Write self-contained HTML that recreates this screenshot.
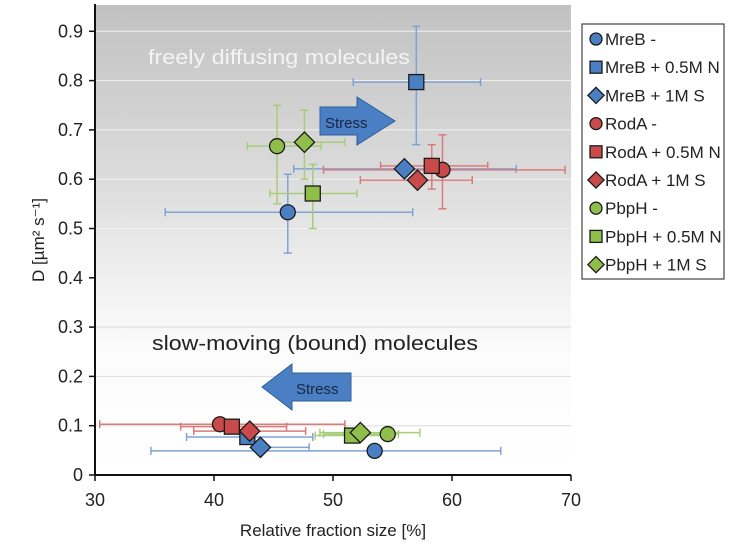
<!DOCTYPE html>
<html><head><meta charset="utf-8"><style>
html,body{margin:0;padding:0;background:#fff;}
svg{display:block;font-family:"Liberation Sans",sans-serif;}
</style></head><body>
<svg id="chart" width="756" height="548" viewBox="0 0 756 548">
<defs>
<linearGradient id="bg" x1="0" y1="0" x2="0" y2="1">
<stop offset="0" stop-color="#c2c2c2"/><stop offset="0.35" stop-color="#dadada"/><stop offset="0.62" stop-color="#f3f3f3"/><stop offset="0.75" stop-color="#fcfcfc"/><stop offset="1" stop-color="#ffffff"/>
</linearGradient>
</defs>
<rect x="95" y="5" width="476" height="470" fill="url(#bg)"/>
<g id="grid"></g>
<text x="148" y="64" font-size="20" fill="#f4f4f4" textLength="262" lengthAdjust="spacingAndGlyphs">freely diffusing molecules</text>
<text x="152" y="350" font-size="20" fill="#222" textLength="326" lengthAdjust="spacingAndGlyphs">slow-moving (bound) molecules</text>
<g>
<polygon points="320,107 357,107 357,97 395,121 357,145 357,135 320,135" fill="#4a7fc4" stroke="#2f5f9a" stroke-width="1"/>
<text x="325" y="128" font-size="15" fill="#1a2540">Stress</text>
</g>
<g>
<polygon points="262,387 292,364 292,373 351,373 351,401 292,401 292,410" fill="#4a7fc4" stroke="#2f5f9a" stroke-width="1"/>
<text x="296" y="394" font-size="15" fill="#1a2540">Stress</text>
</g>
<g id="errs"></g>
<g id="marks"></g>
<g id="axes"></g>
<text x="333" y="536" font-size="17" text-anchor="middle" fill="#222">Relative fraction size [%]</text>
<text transform="translate(44,240) rotate(-90)" font-size="17" text-anchor="middle" fill="#222">D [µm² s⁻¹]</text>
<g id="legend">
<rect x="582" y="24" width="142" height="255" fill="#fff" stroke="#444" stroke-width="1.2"/>
</g>
</svg>
<script>
const seriesNames=["MreB -","MreB + 0.5M N","MreB + 1M S","RodA -","RodA + 0.5M N","RodA + 1M S","PbpH -","PbpH + 0.5M N","PbpH + 1M S"];
const colors=["#4a7fc4","#4a7fc4","#4a7fc4","#c94a4a","#c94a4a","#c94a4a","#8fbf4a","#8fbf4a","#8fbf4a"];
const errColors=["#7fa3d6","#7fa3d6","#7fa3d6","#dc7a7a","#dc7a7a","#dc7a7a","#a9cc7a","#a9cc7a","#a9cc7a"];
const shapes=["circle","square","diamond","circle","square","diamond","circle","square","diamond"];
// upper (free) population
const freeX=[46.2,57.0,56.0,59.2,58.3,57.1,45.3,48.3,47.6];
const freeY=[0.533,0.797,0.621,0.619,0.627,0.598,0.667,0.571,0.675];
const freeXLo=[35.9,51.7,46.7,49.2,54.0,52.3,42.8,44.7,45.0];
const freeXHi=[56.7,62.4,65.4,69.5,63.0,61.7,49.0,52.0,51.0];
const freeYLo=[0.45,0.67,0.61,0.54,0.58,0.59,0.55,0.50,0.60];
const freeYHi=[0.61,0.91,0.63,0.69,0.67,0.61,0.75,0.63,0.74];
// lower (bound) population
const boundX=[53.5,42.8,43.9,40.5,41.5,43.0,54.6,51.6,52.3];
const boundY=[0.049,0.077,0.056,0.103,0.098,0.089,0.083,0.080,0.086];
const boundXLo=[34.7,37.7,43.3,30.4,37.2,38.3,49.2,48.5,48.9];
const boundXHi=[64.1,48.3,48.0,51.0,46.1,47.7,55.5,55.0,57.3];
const xTicks=[30,40,50,60,70];
const yTicks=[0,0.1,0.2,0.3,0.4,0.5,0.6,0.7,0.8,0.9];
const NS="http://www.w3.org/2000/svg";
function sx(v){return 95+(v-30)*(476/40);}
function sy(v){return 475-v*493;}
function mk(tag,attrs,parent){const e=document.createElementNS(NS,tag);for(const k in attrs)e.setAttribute(k,attrs[k]);parent.appendChild(e);return e;}
const grid=document.getElementById('grid'),axes=document.getElementById('axes'),errs=document.getElementById('errs'),marks=document.getElementById('marks'),legend=document.getElementById('legend');
yTicks.forEach((t,i)=>{
 if(t>0){const g=mk('line',{x1:95,x2:571,y1:sy(t),y2:sy(t),stroke:t>=0.4?'#f2f2f2':'#dcdcdc','stroke-width':1},grid);
 }
 const tk=mk('line',{x1:89,x2:95,y1:sy(t),y2:sy(t),stroke:'#111','stroke-width':1.5},axes);
 
 const lb=mk('text',{x:83,y:sy(t)+6,'font-size':18,'text-anchor':'end',fill:'#222'},axes);lb.textContent=t===0?'0':t.toFixed(1);
 
});
xTicks.forEach(t=>{
 const tk=mk('line',{x1:sx(t),x2:sx(t),y1:475,y2:481,stroke:'#111','stroke-width':1.5},axes);
 
 const lb=mk('text',{x:sx(t),y:506,'font-size':18,'text-anchor':'middle',fill:'#222'},axes);lb.textContent=t;
 
});
const xa=mk('line',{x1:95,x2:571,y1:475,y2:475,stroke:'#111','stroke-width':2},axes);

const ya=mk('line',{x1:95,x2:95,y1:4,y2:475,stroke:'#111','stroke-width':2},axes);

function errBar(x1,y1,x2,y2,c,vert){
 const g=mk('g',{stroke:c,'stroke-width':1.5},errs);
 
 mk('line',{x1:x1,y1:y1,x2:x2,y2:y2},g);
 if(vert){mk('line',{x1:x1-4,x2:x1+4,y1:y1,y2:y1},g);mk('line',{x1:x2-4,x2:x2+4,y1:y2,y2:y2},g);}
 else{mk('line',{x1:x1,x2:x1,y1:y1-4,y2:y1+4},g);mk('line',{x1:x2,x2:x2,y1:y2-4,y2:y2+4},g);}
}
function marker(shape,cx,cy,c,r,parent){
 if(shape==='circle')return mk('circle',{cx:cx,cy:cy,r:r,fill:c,stroke:'#1a1a1a','stroke-width':1.3},parent);
 if(shape==='square')return mk('rect',{x:cx-r,y:cy-r,width:2*r,height:2*r,fill:c,stroke:'#1a1a1a','stroke-width':1.3},parent);
 const d=r*1.35;return mk('polygon',{points:`${cx},${cy-d} ${cx+d},${cy} ${cx},${cy+d} ${cx-d},${cy}`,fill:c,stroke:'#1a1a1a','stroke-width':1.3},parent);
}
seriesNames.forEach((n,i)=>{
 errBar(sx(freeXLo[i]),sy(freeY[i]),Math.min(sx(freeXHi[i]),571),sy(freeY[i]),errColors[i],false);
 errBar(sx(freeX[i]),sy(freeYLo[i]),sx(freeX[i]),sy(freeYHi[i]),errColors[i],true);
 errBar(sx(boundXLo[i]),sy(boundY[i]),Math.min(sx(boundXHi[i]),571),sy(boundY[i]),errColors[i],false);
});
seriesNames.forEach((n,i)=>{
 const a=marker(shapes[i],sx(freeX[i]),sy(freeY[i]),colors[i],7.5,marks);
 
 const b=marker(shapes[i],sx(boundX[i]),sy(boundY[i]),colors[i],7.5,marks);
 
 const y=39+i*28.2;
 const lm=marker(shapes[i],596,y,colors[i],6,legend);
 
 const lt=mk('text',{x:605,y:y+6,'font-size':17,fill:'#222'},legend);lt.textContent=n;
 
});
</script>
</body></html>
